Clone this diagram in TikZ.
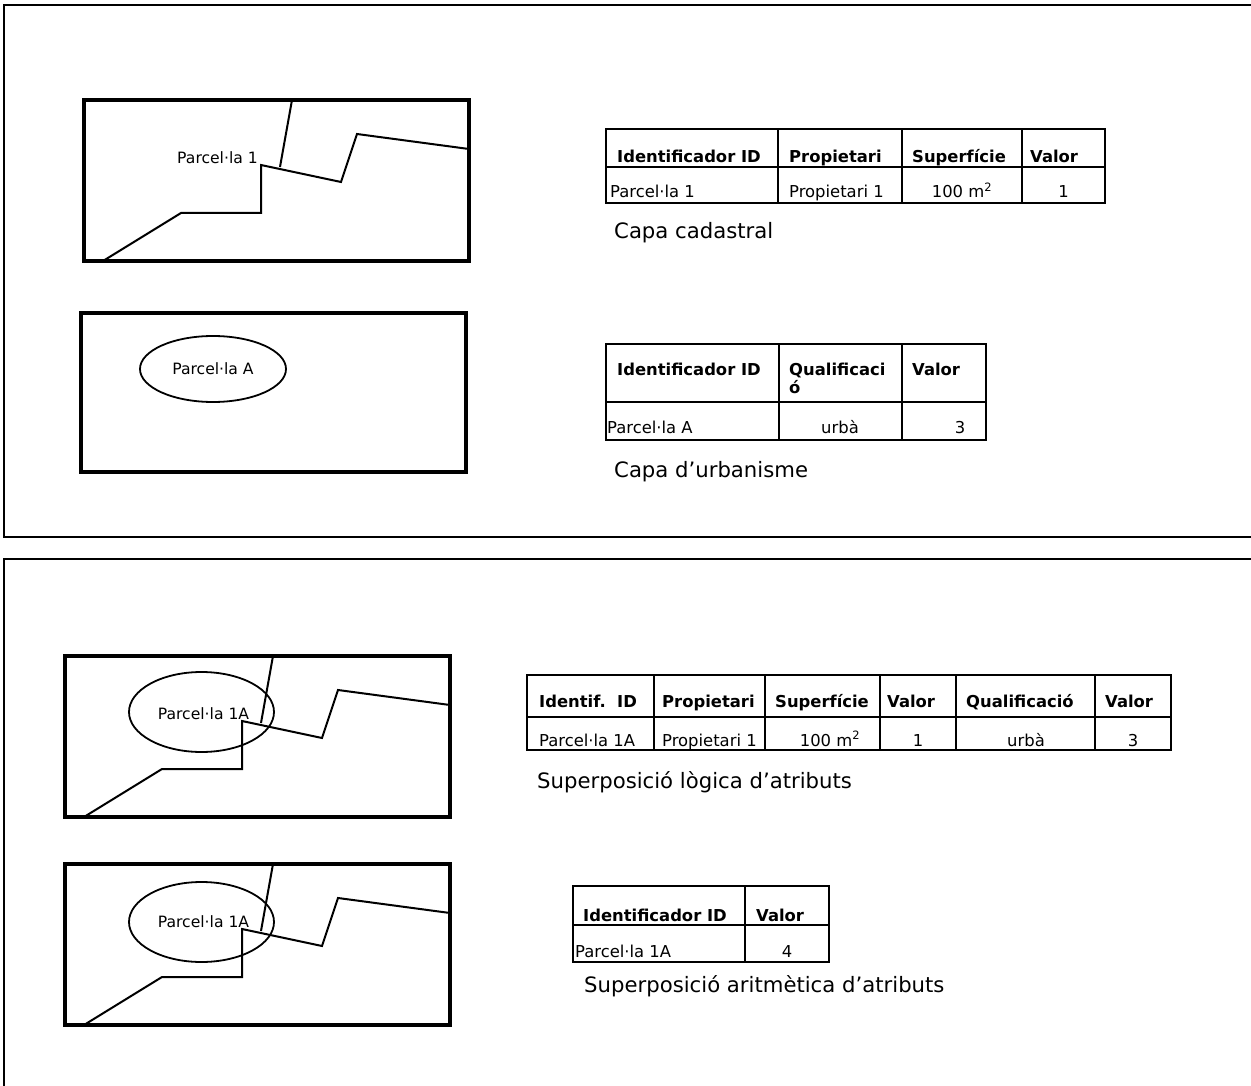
\documentclass[tikz,border=0pt]{standalone}
\usepackage{fontspec}
\setmainfont{DejaVu Sans}
\usetikzlibrary{positioning, shapes.geometric}

\newcommand{\cellsize}{\fontsize{16.4}{16}\selectfont}
\newcommand{\labsize}{\fontsize{15.6}{15}\selectfont}
\newcommand{\capsize}{\fontsize{21.2}{22}\selectfont}

% parcel boundaries of the cadastral layer, from the map's top-left corner
\newcommand{\parcelmap}[1]{%
  \begin{scope}[shift={#1}]
    \draw[bound] (19,161) -- (97,113) -- (177,113) -- (177,65) -- (257,82)
                 -- (273,34) -- (385,49);
    \draw[bound] (208,0) -- (196,67);
    \draw[mapbox] (0,0) rectangle (385,161);
  \end{scope}}

\begin{document}
\begin{tikzpicture}[x=1pt, y=-1pt,
    frame/.style={draw, line width=2pt},
    mapbox/.style={line width=3.6pt},
    bound/.style={line width=2pt},
    zone/.style={draw, ellipse, line width=1.8pt},
    grid/.style={line width=1.9pt},
    hd/.style={font=\cellsize\bfseries, anchor=base west, inner sep=0pt},
    td/.style={font=\cellsize, anchor=base west, inner sep=0pt},
    tdc/.style={td, anchor=base},
    lab/.style={font=\labsize, inner sep=0pt},
    capt/.style={font=\capsize, anchor=base west, inner sep=0pt}]
  \useasboundingbox (0,0) rectangle (1251,1086);
  \clip (0,0) rectangle (1251,1086);

  % two panels
  \draw[frame] (4,5) rectangle (1270,537);
  \draw[frame] (4,559) rectangle (1270,1110);

  % ---- input layers ----
  \parcelmap{(84,100)}
  \node[lab, anchor=base east] (p1) at (258,164) {Parcel·la 1};

  \draw[mapbox] (81,313) rectangle (466,472);
  \node[zone, minimum width=146pt, minimum height=66pt] (pa) at (213,369) {};
  \node[lab] (palab) at (pa.center) {Parcel·la A};

  % cadastral table
  \draw[grid] (606,129) rectangle (1105,203) (606,167) -- (1105,167);
  \foreach \x in {778,902,1022} \draw[grid] (\x,129) -- (\x,203);
  \node[hd] (c1) at (617,163) {Identificador ID};
  \node[hd] (c2) at (789,163) {Propietari};
  \node[hd] (c3) at (912,163) {Superfície};
  \node[hd] (c4) at (1030,163) {Valor};
  \node[td] (c1v) at (610,198) {Parcel·la 1};
  \node[td] (c2v) at (789,198) {Propietari 1};
  \node[tdc] (c3v) at (962,198) {100 m\textsuperscript{2}};
  \node[tdc] (c4v) at (1063.5,198) {1};
  \node[capt] (cadcap) at (614,239) {Capa cadastral};

  % urban planning table
  \draw[grid] (606,344) rectangle (986,440) (606,402) -- (986,402);
  \foreach \x in {779,902} \draw[grid] (\x,344) -- (\x,440);
  \node[hd] (u1) at (617,375) {Identificador ID};
  \node[hd] (u2) at (789,375) {Qualificaci};
  \node[hd] (u2b) at (789,393) {ó};
  \node[hd] (u3) at (912,375) {Valor};
  \node[td] (u1v) at (607,433) {Parcel·la A};
  \node[tdc] (u2v) at (840,433) {urbà};
  \node[tdc] (u3v) at (960,433) {3};
  \node[capt] (urbcap) at (614,477) {Capa d’urbanisme};

  % ---- overlays ----
  \parcelmap{(65,656)}
  \node[zone, minimum width=145pt, minimum height=80pt] (z1) at (201.5,712) {};
  \node[lab, anchor=base] (z1lab) at (203.5,719) {Parcel·la 1A};

  \parcelmap{(65,864)}
  \node[zone, minimum width=145pt, minimum height=80pt] (z2) at (201.5,922) {};
  \node[lab, anchor=base] (z2lab) at (203.5,927) {Parcel·la 1A};

  % logical overlay table
  \draw[grid] (527,675) rectangle (1171,750) (527,717) -- (1171,717);
  \foreach \x in {654,765,880,956,1095} \draw[grid] (\x,675) -- (\x,750);
  \node[hd] (l1) at (539,707) {Identif.\ \ ID};
  \node[hd] (l2) at (662,707) {Propietari};
  \node[hd] (l3) at (775,707) {Superfície};
  \node[hd] (l4) at (887,707) {Valor};
  \node[hd] (l5) at (966,707) {Qualificació};
  \node[hd] (l6) at (1105,707) {Valor};
  \node[td] (l1v) at (539,746) {Parcel·la 1A};
  \node[td] (l2v) at (662,746) {Propietari 1};
  \node[tdc] (l3v) at (830,746) {100 m\textsuperscript{2}};
  \node[tdc] (l4v) at (918,746) {1};
  \node[tdc] (l5v) at (1026,746) {urbà};
  \node[tdc] (l6v) at (1133,746) {3};
  \node[capt] (logcap) at (537,788) {Superposició lògica d’atributs};

  % arithmetic overlay table
  \draw[grid] (573,886) rectangle (829,962) (573,925) -- (829,925);
  \draw[grid] (745,886) -- (745,962);
  \node[hd] (a1) at (583,921) {Identificador ID};
  \node[hd] (a2) at (756,921) {Valor};
  \node[td] (a1v) at (575,957) {Parcel·la 1A};
  \node[tdc] (a2v) at (787,957) {4};
  \node[capt] (aricap) at (584,992) {Superposició aritmètica d’atributs};
\end{tikzpicture}
\end{document}
